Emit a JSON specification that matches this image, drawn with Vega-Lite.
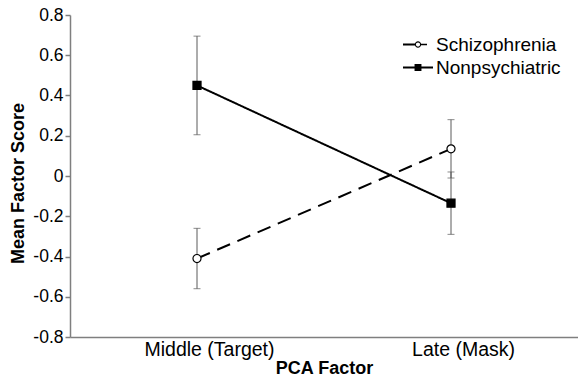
{
  "$schema": "https://vega.github.io/schema/vega-lite/v6.json",
  "width": 508,
  "height": 322,
  "autosize": {"type": "none"},
  "padding": {"left": 70, "top": 15, "right": 0, "bottom": 47},
  "config": {
    "font": "Liberation Sans",
    "view": {"stroke": null},
    "axis": {"grid": false, "domainColor": "#7f7f7f", "domainWidth": 1.5, "tickColor": "#7f7f7f", "tickWidth": 1.5, "labelColor": "#000", "titleColor": "#000", "titleFontSize": 18, "titleFontWeight": "bold"}
  },
  "data": {
    "values": [
      {"factor": "Middle (Target)", "group": "Schizophrenia", "mean": -0.41, "lower": -0.56, "upper": -0.26},
      {"factor": "Late (Mask)", "group": "Schizophrenia", "mean": 0.135, "lower": -0.01, "upper": 0.28},
      {"factor": "Middle (Target)", "group": "Nonpsychiatric", "mean": 0.45, "lower": 0.205, "upper": 0.695},
      {"factor": "Late (Mask)", "group": "Nonpsychiatric", "mean": -0.135, "lower": -0.29, "upper": 0.02}
    ]
  },
  "encoding": {
    "x": {
      "field": "factor", "type": "nominal", "sort": ["Middle (Target)", "Late (Mask)"],
      "scale": {"type": "point", "padding": 0.5},
      "axis": {"title": "PCA Factor", "labelAngle": 0, "ticks": false, "labelPadding": 3, "labelOffset": 12, "titlePadding": 1, "labelFontSize": 19.5, "titleFontSize": 18}
    }
  },
  "layer": [
    {
      "mark": {"type": "rule", "color": "#5a5a5a", "strokeWidth": 1},
      "encoding": {
        "y": {"field": "lower", "type": "quantitative", "scale": {"domain": [-0.8, 0.8], "nice": false},
          "axis": {"title": "Mean Factor Score", "values": [-0.8, -0.6, -0.4, -0.2, 0, 0.2, 0.4, 0.6, 0.8],
            "labelExpr": "replace(format(datum.value, '.1~f'), '\u2212', '-')", "tickSize": 5, "labelPadding": 2, "labelFontSize": 17.5,
            "titleX": -52, "titleY": 168, "titleAngle": -90, "titleAlign": "center", "titleBaseline": "middle", "titleFontSize": 18}},
        "y2": {"field": "upper"}
      }
    },
    {
      "mark": {"type": "tick", "color": "#5a5a5a", "thickness": 1, "size": 7, "orient": "horizontal"},
      "encoding": {"y": {"field": "lower", "type": "quantitative"}}
    },
    {
      "mark": {"type": "tick", "color": "#5a5a5a", "thickness": 1, "size": 7, "orient": "horizontal"},
      "encoding": {"y": {"field": "upper", "type": "quantitative"}}
    },
    {
      "mark": {"type": "line", "color": "#000000", "strokeWidth": 2},
      "encoding": {
        "y": {"field": "mean", "type": "quantitative"},
        "strokeDash": {"field": "group", "type": "nominal", "scale": {"domain": ["Schizophrenia", "Nonpsychiatric"], "range": [[14, 8], [1, 0]]}, "legend": null}
      }
    },
    {
      "mark": {"type": "point", "filled": true, "stroke": "#000000", "strokeWidth": 1.2, "size": 65, "opacity": 1},
      "encoding": {
        "y": {"field": "mean", "type": "quantitative"},
        "shape": {"field": "group", "type": "nominal", "scale": {"domain": ["Schizophrenia", "Nonpsychiatric"], "range": ["circle", "square"]}, "legend": null},
        "fill": {"field": "group", "type": "nominal", "scale": {"domain": ["Schizophrenia", "Nonpsychiatric"], "range": ["#ffffff", "#000000"]}, "legend": null}
      }
    },
    {
      "mark": {"type": "point", "filled": true, "opacity": 0},
      "encoding": {
        "y": {"field": "mean", "type": "quantitative"},
        "shape": {"field": "group", "type": "nominal", "title": null,
          "scale": {"domain": ["Schizophrenia", "Nonpsychiatric"], "range": [
            "M-1,-0.065H-0.2V0.065H-1ZM0.2,-0.05H0.6V0.05H0.2ZM-0.21,0A0.21,0.21 0 1,1 0.21,0A0.21,0.21 0 1,1 -0.21,0ZM-0.14,0A0.14,0.14 0 1,0 0.14,0A0.14,0.14 0 1,0 -0.14,0Z",
            "M-1,-0.065H1V0.065H-1ZM-0.23,-0.23H0.23V0.23H-0.23Z"]},
          "legend": {"orient": "none", "legendX": 332, "legendY": 18, "symbolSize": 900, "symbolOpacity": 1, "clipHeight": 23, "rowPadding": 0, "labelOffset": 2, "labelFontSize": 19, "labelColor": "#000000", "padding": 0}},
        "fill": {"field": "group", "type": "nominal", "title": null,
          "scale": {"domain": ["Schizophrenia", "Nonpsychiatric"], "range": ["#000000", "#000000"]}}
      }
    }
  ],
  "resolve": {"scale": {"shape": "independent", "fill": "independent"}, "legend": {"shape": "independent", "fill": "independent"}}
}
